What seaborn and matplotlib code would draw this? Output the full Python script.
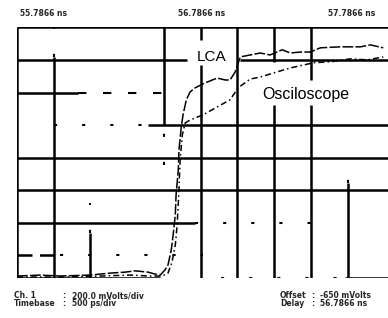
import matplotlib
matplotlib.use("Agg")
import matplotlib.pyplot as plt
import seaborn as sns
import pandas as pd

# ---- data (screen divisions: x 0..10, y gridlines at 0..6) ----
lca_x = [0, 0.63, 1.17, 1.99, 2.53, 2.94, 3.22, 3.57, 3.76, 3.90, 4.03, 4.11, 4.20, 4.25,
         4.31, 4.33, 4.39, 4.41, 4.47, 4.52, 4.61, 4.71, 4.85, 5.12, 5.45, 5.67, 5.80, 5.94,
         6.08, 6.35, 6.62, 6.89, 7.22, 7.44, 7.71, 7.98, 8.26, 8.80, 9.35, 9.62, 9.97]
lca_y = [-0.64, -0.61, -0.64, -0.61, -0.55, -0.52, -0.48, -0.52, -0.58, -0.61, -0.45, -0.30,
         0.16, 0.62, 1.24, 1.85, 2.62, 3.24, 3.92, 4.32, 4.78, 5.02, 5.15, 5.30, 5.45, 5.39,
         5.39, 5.64, 6.10, 6.16, 6.22, 6.16, 6.32, 6.22, 6.25, 6.25, 6.38, 6.41, 6.41, 6.47, 6.38]
osc_x = [0, 1.17, 2.26, 3.08, 3.62, 3.95, 4.11, 4.22, 4.31, 4.36, 4.41, 4.44, 4.50, 4.58,
         4.71, 5.07, 5.40, 5.80, 6.02, 6.35, 6.62, 7.08, 7.44, 8.07, 8.53, 9.07, 9.54, 9.97]
osc_y = [-0.67, -0.67, -0.64, -0.61, -0.64, -0.64, -0.55, -0.21, 0.32, 0.93, 2.01, 2.93,
         3.70, 4.07, 4.16, 4.32, 4.53, 4.78, 5.15, 5.42, 5.48, 5.64, 5.76, 5.92, 5.95, 6.04,
         6.01, 6.10]
series_labels = ["LCA", "Osciloscope"]
top_labels = ["55.7866 ns", "56.7866 ns", "57.7866 ns"]
info_left = [("Ch. 1", "200.0 mVolts/div"), ("Timebase", "500 ps/div")]
info_right = [("Offset", "-650 mVolts"), ("Delay", "56.7866 ns")]

sns.set_theme(style="white")
plt.rcParams["font.family"] = ["Liberation Sans", "DejaVu Sans"]

fig = plt.figure(figsize=(3.88, 3.18), dpi=100)
ax = fig.add_axes([17 / 388, 40 / 318, 371 / 388, 251 / 318])
ax.set_xlim(0, 10.1)
ax.set_ylim(-0.7, 7.02)
for s in ax.spines.values():
    s.set_visible(False)
ax.set_xticks([])
ax.set_yticks([])

lw = 1.8
kw = dict(color="black", lw=lw, solid_capstyle="butt")
dot = dict(color="black", lw=1.5, ls=(0, (1.5, 12)))

# frame
ax.axhline(7.02, 0, 1, **kw)
ax.axvline(0, 0, 1, **kw)
ax.axhline(-0.7, 0, 0.385, **kw)
ax.axhline(-0.7, 0.884, 1, **kw)
ax.axhline(-0.7, 0.55, 0.884, **dot)

# horizontal grid
ax.axhline(6, 0, 0.458, **kw)
ax.axhline(6, 0.60, 1, **kw)
ax.axhline(5, 0, 0.164, **kw)
ax.axhline(5, 0.164, 0.40, color="black", lw=1.5, ls=(0, (4, 8)))
ax.axhline(4, 0.10, 0.345, **dot)
ax.axhline(4, 0.353, 1, **kw)
ax.axhline(3, 0, 1, **kw)
ax.axhline(2, 0, 1, **kw)
ax.axhline(1, 0, 0.48, **kw)
ax.axhline(1, 0.48, 0.795, **dot)
ax.axhline(0, 0, 0.116, color="black", lw=lw, ls=(0, (6, 3)))
ax.axhline(0, 0.116, 0.5, **dot)

# vertical grid
ax.axvline(1, 0, 0.88, **kw)
ax.axvline(1, 0.88, 1, **dot)
ax.axvline(2, 0, 0.18, **kw)
ax.axvline(2, 0.18, 0.3, **dot)
ax.axvline(4, 0.61, 1, **kw)
ax.axvline(4, 0.45, 0.61, **dot)
ax.axvline(5, 0, 0.85, **kw)
ax.axvline(5, 0.95, 1, **kw)
ax.axvline(6, 0, 1, **kw)
ax.axvline(7, 0, 0.69, **kw)
ax.axvline(7, 0.86, 1, **kw)
ax.axvline(8, 0, 0.69, **kw)
ax.axvline(8, 0.79, 1, **kw)
ax.axvline(9, 0, 0.38, **kw)
ax.axvline(9, 0.38, 0.48, **dot)

# traces
df_lca = pd.DataFrame({"x": lca_x, "y": lca_y})
df_osc = pd.DataFrame({"x": osc_x, "y": osc_y})
sns.lineplot(data=df_lca, x="x", y="y", sort=False, ax=ax, color="black",
             lw=1.1, linestyle=(0, (7, 1.5)))
sns.lineplot(data=df_osc, x="x", y="y", sort=False, ax=ax, color="black",
             lw=1.1, linestyle=(0, (4, 2, 1, 2)))
ax.set_xlabel("")
ax.set_ylabel("")

ax.text(5.31, 6.1, series_labels[0], ha="center", va="center", fontsize=11,
        color="black")
ax.text(7.85, 4.93, series_labels[1], ha="center", va="center", fontsize=11.5,
        color="black")

# header
for lab, px in zip(top_labels, [43, 202, 352]):
    fig.text(px / 388, 1 - 13 / 318, lab, ha="center", va="center",
             fontsize=5.5, fontweight="bold", family="DejaVu Sans")

# footer
for i, (k, v) in enumerate(info_left):
    yy = 1 - (296 + 8 * i) / 318
    fig.text(14 / 388, yy, k, ha="left", va="center", fontsize=5.5,
             fontweight="bold", family="DejaVu Sans")
    fig.text(62 / 388, yy, ":", ha="left", va="center", fontsize=5.5,
             fontweight="bold", family="DejaVu Sans")
    fig.text(72 / 388, yy, v, ha="left", va="center", fontsize=5.5,
             fontweight="bold", family="DejaVu Sans")
for i, (k, v) in enumerate(info_right):
    yy = 1 - (296 + 8 * i) / 318
    fig.text(280 / 388, yy, k, ha="left", va="center", fontsize=5.5,
             fontweight="bold", family="DejaVu Sans")
    fig.text(311 / 388, yy, ":", ha="left", va="center", fontsize=5.5,
             fontweight="bold", family="DejaVu Sans")
    fig.text(320 / 388, yy, v, ha="left", va="center", fontsize=5.5,
             fontweight="bold", family="DejaVu Sans")

fig.savefig("out.png", dpi=100, facecolor="white")
